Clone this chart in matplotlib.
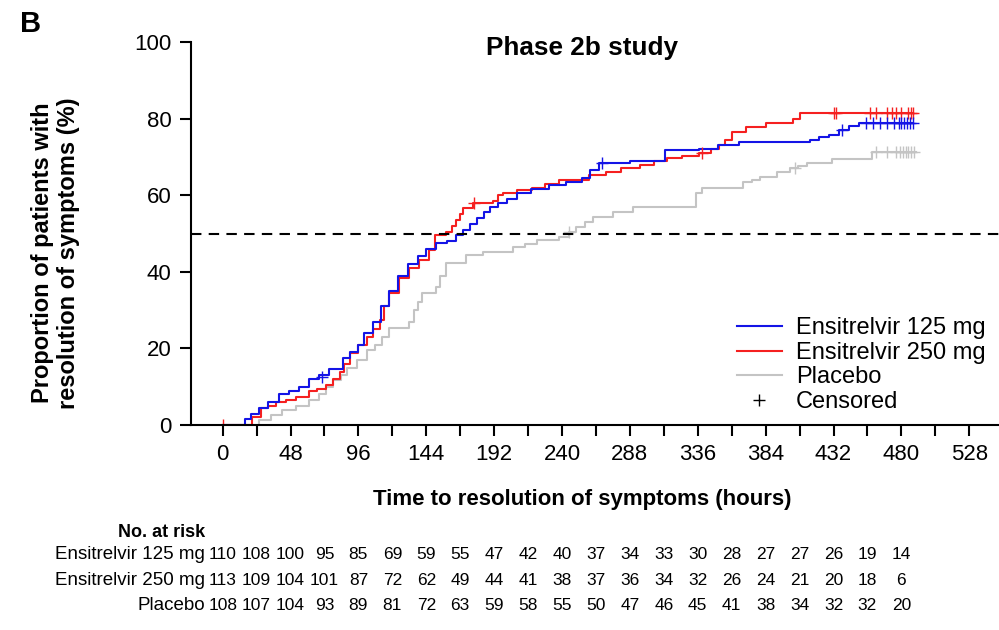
import matplotlib
matplotlib.use("Agg")
import matplotlib.pyplot as plt
from matplotlib.lines import Line2D

plt.rcParams["font.family"] = ["Liberation Sans", "DejaVu Sans"]

# Kaplan-Meier step points (hours, % resolved)
t_125 = [0, 16, 20, 26, 32, 40, 47, 54, 61, 68, 75, 85, 90, 96, 100, 106, 112, 118,
         124, 131, 138, 144, 151, 159, 165, 170, 175, 180, 185, 189, 195, 201, 208,
         218, 231, 243, 254, 260, 266, 288, 313, 337, 350, 365, 415, 422, 429, 436,
         443, 450, 488]
p_125 = [0, 1.5, 3, 4.5, 6, 8, 9, 10, 12, 13, 14.5, 17.5, 19, 21, 24, 27, 31, 35,
         39, 42, 44, 46, 47.5, 48, 49.5, 51, 52.5, 54, 55.5, 57, 58, 59, 60.6,
         61.5, 62.7, 63.5, 64.5, 66.5, 68.4, 69, 71.8, 72, 73, 73.9, 74.4, 75.2, 75.7, 77,
         78, 78.8, 78.8]

t_250 = [0, 21, 27, 32, 38, 45, 52, 61, 67, 73, 78, 83, 86, 90, 96, 102, 106, 111,
         114, 118, 125, 132, 139, 146, 150, 158, 162, 165, 168, 170, 177, 191, 195,
         198, 208, 219, 228, 238, 259, 271, 282, 295, 305, 314, 325, 337, 345, 351,
         355, 360, 370, 384, 403, 408, 488]
p_250 = [0, 2, 4.4, 5, 6, 6.5, 7.3, 9, 9.5, 10.4, 12, 13.8, 16, 18.8, 21, 23, 25, 27.4,
         31, 34.5, 38.4, 41, 43, 45.7, 49.6, 50.4, 52, 53.5, 55, 56.6, 58, 58.5, 60,
         60.6, 61.4, 62, 63, 64, 65.3, 66, 67, 67.9, 69, 69.7, 70.3, 71, 72, 73,
         74.5, 76.5, 77.8, 78.8, 80, 81.5, 81.5]

t_pbo = [0, 26, 34, 42, 52, 61, 68, 73, 78, 84, 88, 95, 102, 108, 113, 118, 132, 135,
         138, 141, 151, 154, 158, 172, 184, 205, 214, 222, 238, 245, 250, 256, 262,
         276, 290, 335, 339, 368, 374, 380, 392, 401, 407, 413, 431, 459, 490]
p_pbo = [0, 1.3, 2.5, 3.9, 5, 6.5, 8, 10, 11.7, 13, 15, 17, 19.6, 21, 23, 25.3, 27, 30,
         32, 34.5, 36, 39, 42.3, 44.4, 45.2, 46.5, 47.3, 48.3, 49, 50.5, 51.7, 53, 54.3,
         55.6, 57, 60.6, 61.9, 63.4, 64, 64.8, 66, 67, 67.7, 68.4, 69.5, 71.3, 71.3]

# censored observations
c_125_t = [70, 268, 438, 455, 460, 465, 470, 475, 478, 480, 482, 484, 486, 488]
c_125_p = [12.5, 68.4, 77, 78.8, 78.8, 78.8, 78.8, 78.8, 78.8, 78.8, 78.8, 78.8, 78.8, 78.8]
c_250_t = [0, 178, 339, 432, 434, 458, 462, 470, 473, 476, 480, 485, 487, 488]
c_250_p = [0, 58, 71, 81.5, 81.5, 81.5, 81.5, 81.5, 81.5, 81.5, 81.5, 81.5, 81.5, 81.5]
c_pbo_t = [245, 405, 462, 470, 476, 479, 481, 483, 485, 487, 489]
c_pbo_p = [50.5, 67, 71.3, 71.3, 71.3, 71.3, 71.3, 71.3, 71.3, 71.3, 71.3]

risk_times = list(range(0, 481, 24))
risk_rows = ["Ensitrelvir 125 mg", "Ensitrelvir 250 mg", "Placebo"]
risk_125 = [110, 108, 100, 95, 85, 69, 59, 55, 47, 42, 40, 37, 34, 33, 30, 28, 27, 27, 26, 19, 14]
risk_250 = [113, 109, 104, 101, 87, 72, 62, 49, 44, 41, 38, 37, 36, 34, 32, 26, 24, 21, 20, 18, 6]
risk_pbo = [108, 107, 104, 93, 89, 81, 72, 63, 59, 58, 55, 50, 47, 46, 45, 41, 38, 34, 32, 32, 20]

BLUE = "#1414e6"
RED = "#f52020"
GREY = "#c4c4c4"

fig = plt.figure(figsize=(9.99, 6.3), dpi=100)
ax = fig.add_axes([0.191, 0.3254, 0.809, 0.6079])

ax.step(t_pbo, p_pbo, where="post", color=GREY, lw=1.5)
ax.step(t_250, p_250, where="post", color=RED, lw=1.5)
ax.step(t_125, p_125, where="post", color=BLUE, lw=1.5)
ax.plot(c_pbo_t, c_pbo_p, ls="none", marker="+", ms=9, mew=1, color=GREY)
ax.plot(c_250_t, c_250_p, ls="none", marker="+", ms=9, mew=1, color=RED)
ax.plot(c_125_t, c_125_p, ls="none", marker="+", ms=9, mew=1, color=BLUE)

ax.axhline(50, color="black", lw=1.5, ls=(0, (5, 3.5)))

ax.set_xlim(-22.5, 549)
ax.set_ylim(0, 100)
ax.spines["top"].set_visible(False)
ax.spines["right"].set_visible(False)
ax.spines["left"].set_linewidth(1.5)
ax.spines["bottom"].set_linewidth(1.5)

xt = list(range(0, 529, 24))
ax.set_xticks(xt)
ax.set_xticklabels([str(v) if v % 48 == 0 else "" for v in xt])
ax.set_yticks([0, 20, 40, 60, 80, 100])
ax.tick_params(axis="both", direction="out", length=8, width=1.5, labelsize=16, pad=6)

ax.set_xlabel("Time to resolution of symptoms (hours)", fontsize=16, fontweight="bold")
ax.xaxis.set_label_coords(0.484, -0.167)
ax.set_ylabel("Proportion of patients with\nresolution of symptoms (%)", fontsize=17,
              fontweight="bold", linespacing=1.15)
ax.yaxis.set_label_coords(-0.137, 0.449)
ax.text(254, 98.5, "Phase 2b study", ha="center", va="center", fontsize=18.8, fontweight="bold")
fig.text(0.02, 0.962, "B", fontsize=21, fontweight="bold", ha="left", va="center")

handles = [Line2D([], [], color=BLUE, lw=1.5),
           Line2D([], [], color=RED, lw=1.5),
           Line2D([], [], color=GREY, lw=1.5),
           Line2D([], [], ls="none", marker="+", ms=9, mew=1, color="black")]
ax.legend(handles, ["Ensitrelvir 125 mg", "Ensitrelvir 250 mg", "Placebo", "Censored"],
          loc="lower right", bbox_to_anchor=(0.995, 0.007), frameon=False, fontsize=17,
          handlelength=1.9, handletextpad=0.6, labelspacing=0.105, borderaxespad=0)

# number at risk table
tr = ax.get_xaxis_transform()
ax.text(-12.7, -0.282, "No. at risk", transform=tr, ha="right", va="center",
        fontsize=13, fontweight="bold", clip_on=False)
for row_y, name, vals in zip([-0.339, -0.407, -0.4726], risk_rows, [risk_125, risk_250, risk_pbo]):
    ax.text(-12.7, row_y, name, transform=tr, ha="right", va="center",
            fontsize=13.5, clip_on=False)
    for tx, v in zip(risk_times, vals):
        ax.text(tx, row_y, str(v), transform=tr, ha="center", va="center",
                fontsize=12.5, clip_on=False)

fig.savefig("out.png", dpi=100)
